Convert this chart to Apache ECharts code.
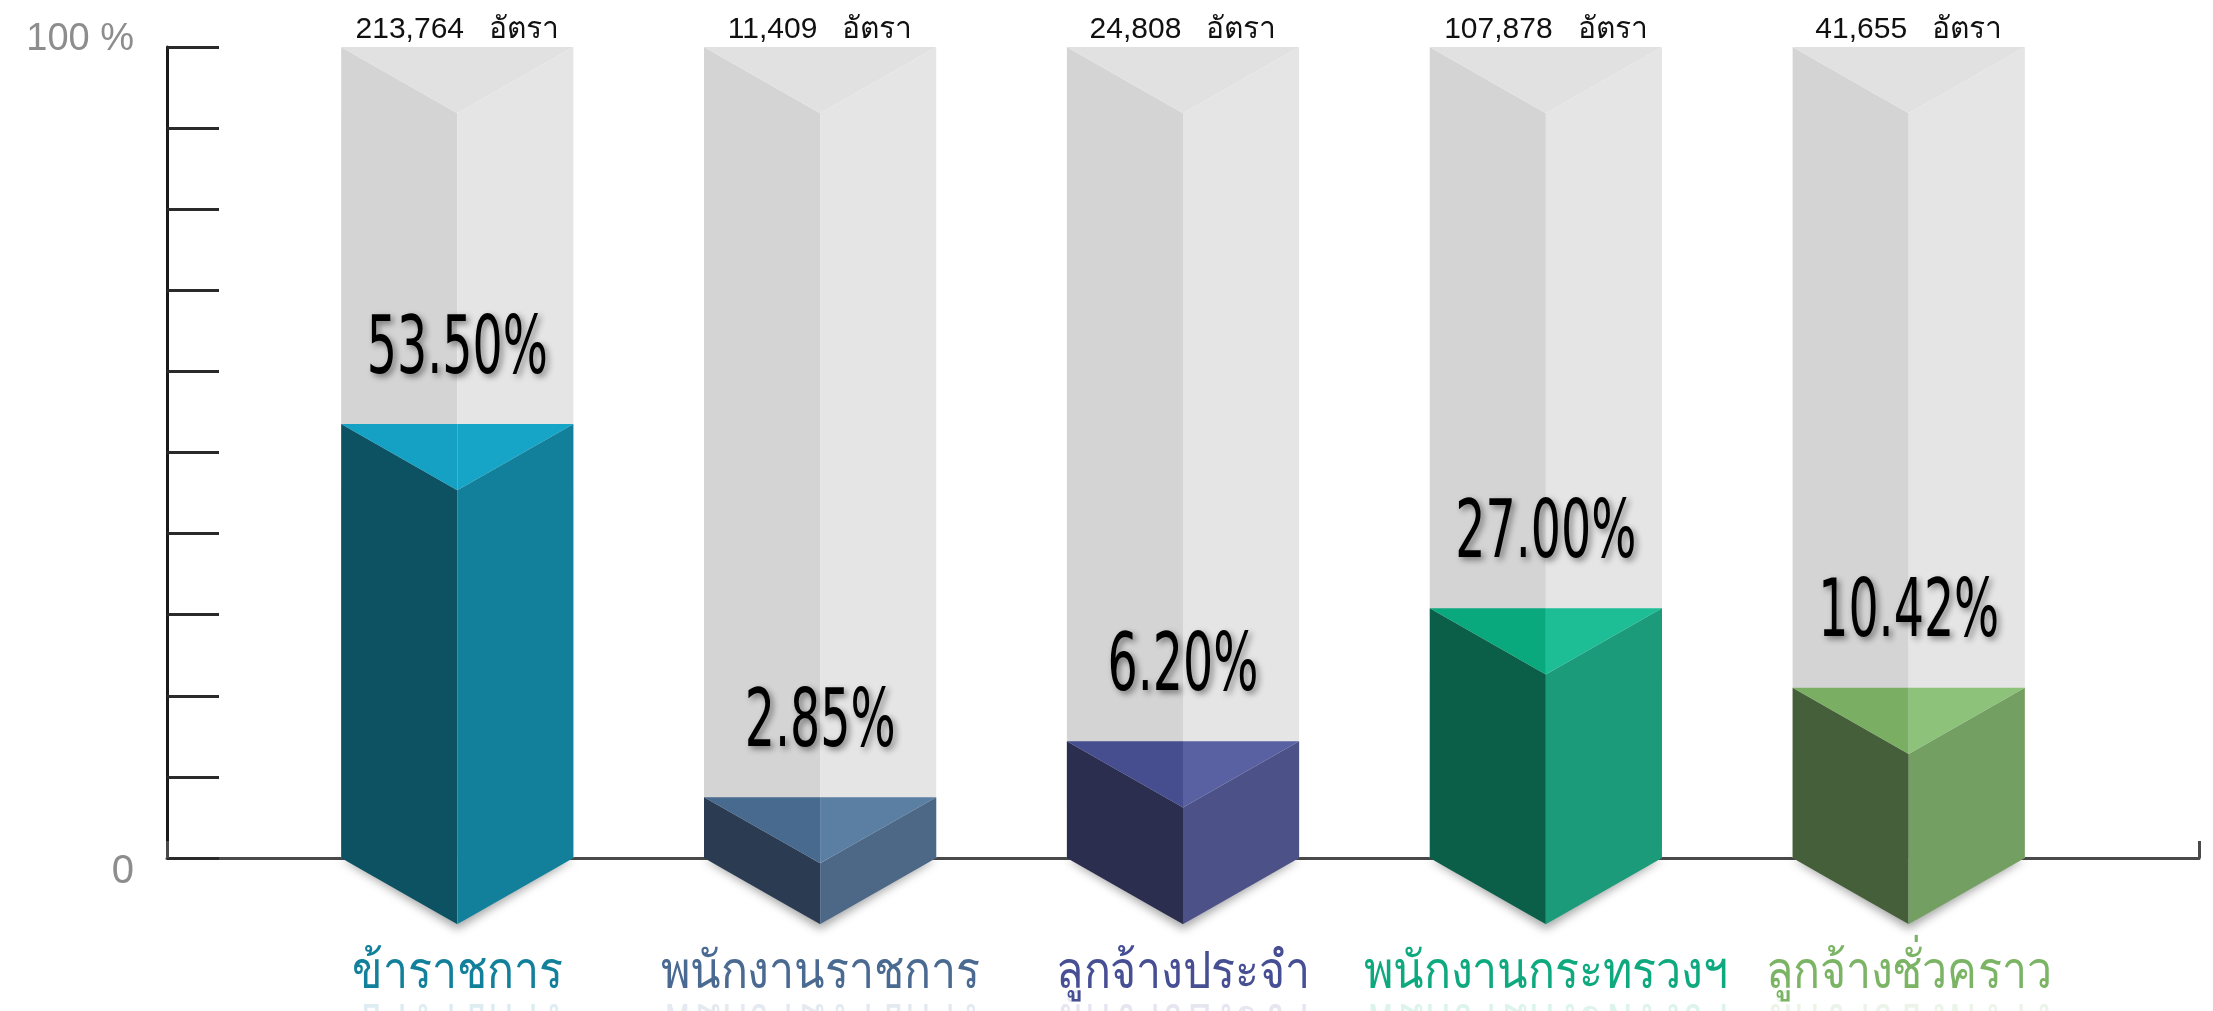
<!DOCTYPE html>
<html>
<head>
<meta charset="utf-8">
<script src="https://cdn.jsdelivr.net/npm/echarts@6/dist/echarts.min.js"></script>
<style>
  html, body { margin: 0; padding: 0; background: #fff; }
  #chart { width: 2213px; height: 1011px; }
</style>
</head>
<body>
<div id="chart"></div>
<script>
const categories = ["ข้าราชการ", "พนักงานราชการ", "ลูกจ้างประจำ", "พนักงานกระทรวงฯ", "ลูกจ้างชั่วคราว"];
const positionCounts = [213764, 11409, 24808, 107878, 41655];
const shareLabels = ["53.50%", "2.85%", "6.20%", "27.00%", "10.42%"];
// filled height of each column as drawn against the 0-100 axis (the infographic does not draw them to scale)
const barHeights = [53.5, 7.5, 14.4, 30.8, 21.0];

// left face, right face, top triangle (left / right half), label colour
const palette = [
  { left: "#0c5263", right: "#12809b", topL: "#15a1c4", topR: "#16a4c7", text: "#12809b" },
  { left: "#2b3c52", right: "#4d6886", topL: "#476a8e", topR: "#5a7fa2", text: "#4a6a92" },
  { left: "#2c2e50", right: "#4c5288", topL: "#474e8f", topR: "#5961a2", text: "#464e94" },
  { left: "#0b5f48", right: "#1b9b7a", topL: "#0aa97d", topR: "#1dbd95", text: "#0fa97f" },
  { left: "#455f3a", right: "#739f62", topL: "#7aaf63", topR: "#8cc27a", text: "#7ab464" }
];

const chart = echarts.init(document.getElementById("chart"));

function poly(points, fill, extra) {
  return { type: "polygon", shape: { points }, style: Object.assign({ fill }, extra || {}) };
}

function renderItem(params, api) {
  const i = api.value(0);
  const base = api.coord([i, 0]);
  const top = api.coord([i, 100]);
  const fill = api.coord([i, api.value(1)]);
  const bw = api.size([1, 0])[0] * 0.64;
  const C = base[0], L = C - bw / 2, R = C + bw / 2;
  const d = bw * 0.285;
  const c = palette[i];
  const yb = base[1], yt = top[1], yf = fill[1];
  const labelY = yb + 116;

  return {
    type: "group",
    children: [
      // soft shadow under the point
      poly([[L, yb - 4], [C, yb + d], [R, yb - 4]], "#ffffff", {
        shadowBlur: 10, shadowColor: "rgba(0,0,0,0.35)", shadowOffsetY: 5
      }),
      // grey sleeve
      poly([[L, yt], [C, yt + d], [C, yb], [L, yb]], "#d4d4d4"),
      poly([[C, yt + d], [R, yt], [R, yb], [C, yb]], "#e5e5e5"),
      poly([[L, yt], [R, yt], [C, yt + d]], "#e1e1e1"),
      // filled column, pointed bottom below the axis
      poly([[L, yf], [C, yf + d], [C, yb + d], [L, yb]], c.left),
      poly([[C, yf + d], [R, yf], [R, yb], [C, yb + d]], c.right),
      poly([[L, yf], [C, yf], [C, yf + d]], c.topL),
      poly([[C, yf], [R, yf], [C, yf + d]], c.topR),
      {
        type: "text", x: C, y: yt - 17,
        style: {
          text: positionCounts[i].toLocaleString("en-US") + "   อัตรา",
          fontSize: 30, fontFamily: "Liberation Sans, sans-serif",
          fill: "#111", align: "center", verticalAlign: "middle"
        }
      },
      {
        type: "text", x: C, y: yf - 72, scaleX: 0.66,
        style: {
          text: shareLabels[i],
          fontSize: 80, fontFamily: "Liberation Sans Narrow, DejaVu Sans Condensed, sans-serif",
          fill: "#000", align: "center", verticalAlign: "middle",
          textShadowColor: "rgba(0,0,0,0.45)", textShadowBlur: 6,
          textShadowOffsetX: 3, textShadowOffsetY: 3
        }
      },
      {
        type: "text", x: C, y: labelY, scaleX: 0.86,
        style: {
          text: categories[i],
          fontSize: 52, fill: c.text, align: "center", verticalAlign: "middle"
        }
      },
      {
        // faint reflection of the category name
        type: "text", x: C, y: labelY + 44, scaleX: 0.86, scaleY: -1,
        style: {
          text: categories[i], opacity: 0.14,
          fontSize: 52, fill: c.text, align: "center", verticalAlign: "middle"
        }
      }
    ]
  };
}

chart.setOption({
  animation: false,
  grid: { left: 167, right: 14, top: 47, bottom: 153 },
  xAxis: {
    type: "value",
    min: -0.8,
    max: 4.8,
    interval: 5.6,
    axisLine: { show: true, onZero: false, lineStyle: { color: "#4a4a4a", width: 3 } },
    axisTick: { show: true, inside: true, length: 17, lineStyle: { color: "#4a4a4a", width: 3 } },
    axisLabel: { show: false },
    splitLine: { show: false }
  },
  yAxis: {
    type: "value",
    min: 0,
    max: 100,
    interval: 10,
    axisLine: { show: true, onZero: false, lineStyle: { color: "#1a1a1a", width: 3 } },
    axisTick: { show: true, inside: true, length: 52, lineStyle: { color: "#2a2a2a", width: 3 } },
    splitLine: { show: false },
    axisLabel: {
      margin: 33,
      formatter: (v) => (v === 100 ? "{hi|100 %}" : v === 0 ? "{lo|0}" : ""),
      rich: {
        hi: { fontSize: 38, color: "#8d8d8d", fontFamily: "Liberation Sans, sans-serif", padding: [0, 0, 14, 0] },
        lo: { fontSize: 40, color: "#8d8d8d", fontFamily: "Liberation Sans, sans-serif", padding: [28, 0, 0, 0] }
      }
    }
  },
  series: [{
    type: "custom",
    clip: false,
    renderItem,
    data: barHeights.map((h, i) => [i, h])
  }]
});
</script>
</body>
</html>
